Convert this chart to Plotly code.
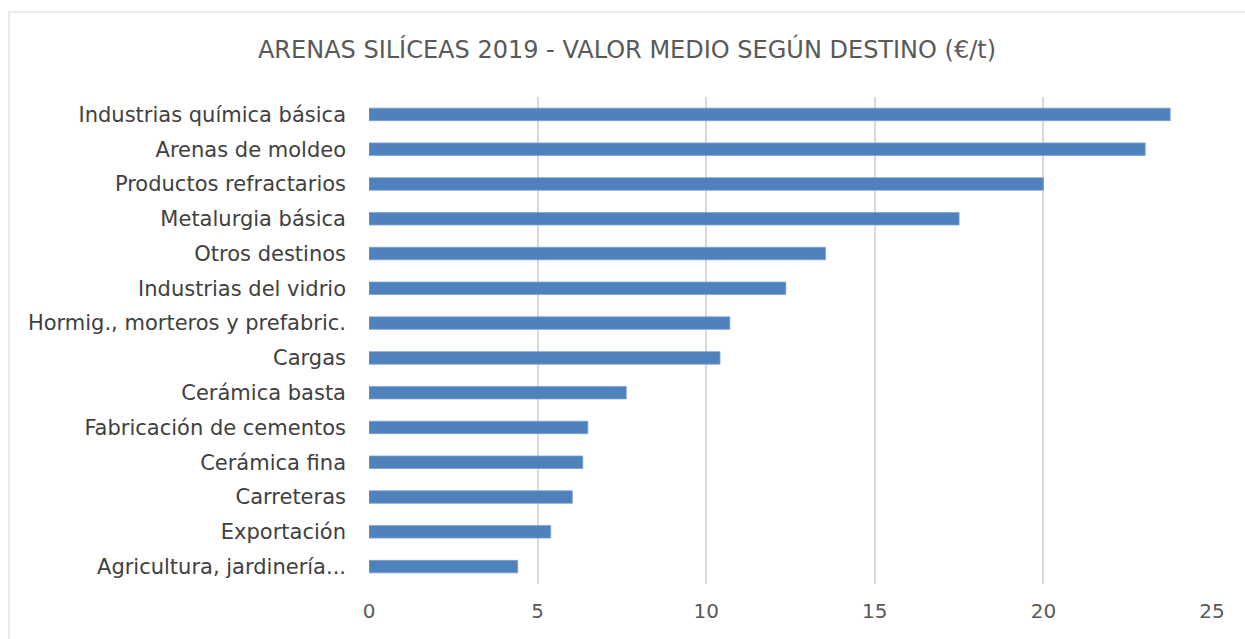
import plotly.graph_objects as go

categories = [
    "Industrias química básica",
    "Arenas de moldeo",
    "Productos refractarios",
    "Metalurgia básica",
    "Otros destinos",
    "Industrias del vidrio",
    "Hormig., morteros y prefabric.",
    "Cargas",
    "Cerámica basta",
    "Fabricación de cementos",
    "Cerámica fina",
    "Carreteras",
    "Exportación",
    "Agricultura, jardinería...",
]
values = [23.76, 23.02, 20.0, 17.5, 13.54, 12.36, 10.70, 10.41, 7.63, 6.49, 6.34, 6.03, 5.39, 4.41]
x_ticks = [0, 5, 10, 15, 20, 25]
title_text = "ARENAS SILÍCEAS 2019 - VALOR MEDIO SEGÚN DESTINO (€/t)"

W, H = 1245, 639
L, R, T, B = 369, 33, 97, 55
pw, ph = W - L - R, H - T - B

fig = go.Figure(go.Bar(
    x=values[::-1],
    y=categories[::-1],
    orientation="h",
    marker=dict(color="#4f81bd", line=dict(color="#7ea1d0", width=0.8)),
    width=0.36,
    hoverinfo="x+y",
))

font_family = "DejaVu Sans, sans-serif"

fig.update_layout(
    width=W, height=H,
    margin=dict(l=L, r=R, t=T, b=B),
    paper_bgcolor="white",
    plot_bgcolor="white",
    showlegend=False,
    title=dict(
        text=title_text,
        x=(9 + W) / 2 / W, xanchor="center",
        y=1 - 50 / H, yanchor="middle",
        font=dict(family=font_family, size=24, color="#595959"),
    ),
    xaxis=dict(
        range=[0, 25],
        tickvals=x_ticks,
        showgrid=True, gridcolor="#d9d9d9", gridwidth=1.5,
        zeroline=False, showline=False,
        tickfont=dict(family=font_family, size=20, color="#595959"),
        ticks="", ticklabelstandoff=13,
        fixedrange=True,
    ),
    yaxis=dict(
        showgrid=False, zeroline=False, showline=False,
        ticks="",
        tickfont=dict(family=font_family, size=21, color="#404040"),
        ticklabelstandoff=22,
        fixedrange=True,
    ),
    shapes=[dict(
        type="rect", xref="paper", yref="paper",
        x0=(9 - L) / pw, x1=(W + 5 - L) / pw,
        y0=(H - B - (H + 5)) / ph, y1=(H - B - 12) / ph,
        line=dict(color="#d9d9d9", width=1.2),
        fillcolor="rgba(0,0,0,0)", layer="below",
    )],
)

fig.write_html(
    "out.html",
    config={"displayModeBar": False},
    post_script="document.body.style.margin='0';document.body.style.overflow='hidden';",
)
